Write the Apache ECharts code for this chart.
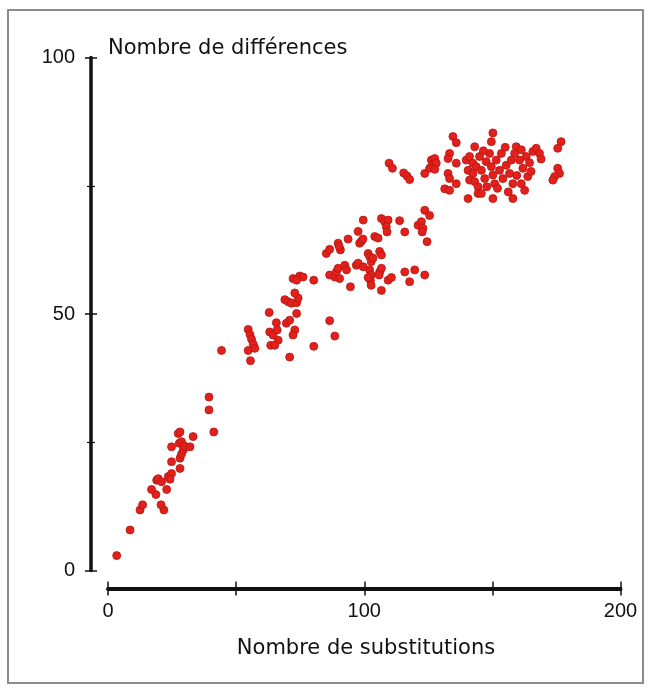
<!DOCTYPE html>
<html>
<head>
<meta charset="utf-8">
<script src="https://cdn.jsdelivr.net/npm/echarts@6/dist/echarts.min.js"></script>
<style>
html,body{margin:0;padding:0;background:#fff;}
#chart{width:654px;height:688px;}
</style>
</head>
<body>
<div id="chart"></div>
<script>
// Axis titles and ticks
const xAxisTitle = 'Nombre de substitutions';
const yAxisTitle = 'Nombre de différences';
const xTickLabels = ['0', '100', '200'];
const yTickLabels = ['0', '50', '100'];

// Points [substitutions, differences]
const lowPoints = [
  [3.4,2.9],[8.6,7.9],[12.5,11.8],[13.5,12.8],[21.8,11.8],[20.7,12.8],[18.7,14.8],[17.0,15.8],
  [19.0,17.6],[22.9,15.8],[23.5,18.3],[24.8,18.9],[24.2,17.8],[19.6,17.9],[20.9,17.3],[28.1,19.9],
  [24.8,21.2],[28.1,21.9],[28.7,22.7],[29.4,23.5],[24.8,24.1],[27.8,24.8],[28.7,25.1],[30.0,24.2],
  [32.0,24.1],[27.4,26.7],[28.1,27.0],[33.2,26.1],[41.3,27.0],[39.4,31.3],[39.4,33.8]
];
const midPoints = [
  [44.3,42.9],[55.6,40.9],[54.7,42.9],[54.7,47.0],[55.4,46.0],[56.0,45.1],[56.7,44.1],[57.3,43.3],
  [62.9,50.3],[65.7,48.3],[63.1,46.5],[64.4,45.9],[66.4,44.9],[63.5,43.9],[65.1,43.9],[66.0,46.9],
  [69.6,48.2],[70.9,48.8],[73.6,50.1],[72.9,46.9],[72.2,45.9],[70.9,41.6],[80.3,43.7],
  [69.0,52.8],[70.3,52.4],[71.6,52.1],[73.6,52.2],[74.2,53.1],[72.9,54.1],
  [72.2,56.9],[74.8,57.4],[76.1,57.2],[73.6,56.6],[80.3,56.6],[86.5,48.7],[88.5,45.7],
  [86.5,57.6],[88.5,57.2],[89.1,58.2],[90.4,56.9],[89.8,58.9],[92.4,59.5],[93.1,58.6],[94.6,55.3],[96.9,59.5]
];
const upperPoints = [
  [85.2,61.8],[86.5,62.6],[89.8,63.8],[90.7,62.5],[90.2,63.2],[93.7,64.6],[97.6,66.1],[99.6,68.3],
  [98.2,63.8],[98.9,64.2],[99.5,64.6],[97.6,59.9],[99.6,59.2],[101.5,61.8],[102.1,61.2],[102.7,60.2],
  [103.4,60.9],[104.1,65.1],[105.4,64.8],[106.7,68.6],[108.0,68.0],[109.3,68.3],[108.6,67.0],[108.9,66.0],
  [106.0,62.2],[106.7,61.5],[102.1,58.6],[102.7,57.6],[102.4,56.6],[101.5,57.1],[102.7,55.6],[106.0,58.2],
  [106.7,58.9],[105.8,57.6],[106.7,54.6],[109.3,56.6],[110.6,57.1],[113.8,68.2],[115.8,66.0],[115.8,58.2],
  [117.7,56.3],[119.7,58.6],[123.6,57.6],[121.0,67.3],[122.3,68.0],[122.9,66.7],[122.6,66.0],[123.6,70.2],
  [125.5,69.2],[124.5,64.1]
];
const plateauPoints = [
  [109.7,79.4],[111.0,78.4],[115.4,77.5],[116.7,76.9],[117.7,76.2],[123.6,77.4],[126.2,80.0],[127.5,80.3],
  [126.5,79.0],[128.1,79.4],[125.5,78.4],[127.5,78.2],[134.6,84.6],[135.9,83.4],[133.3,81.3],[132.7,80.3],
  [135.9,79.4],[132.7,77.4],[133.3,76.4],[135.9,75.4],[131.4,74.4],[133.3,74.1],[140.5,72.5],[139.8,80.0],
  [141.1,80.7],[142.4,79.4],[140.5,78.0],[142.4,77.4],[143.7,78.7],[141.1,76.1],[143.1,75.8],[144.4,74.8],
  [144.4,73.5],[143.1,82.6],[145.0,80.7],[145.7,78.0],[147.0,76.4],[147.6,79.7],[148.9,81.3],[149.6,78.7],
  [150.2,77.1],[150.9,75.4],[151.5,80.0],[152.8,78.0],[153.5,81.3],[154.1,76.4],[155.4,79.0],[156.7,77.4],
  [157.4,80.0],[158.0,75.4],[158.7,81.3],[159.3,82.6],[160.6,80.0],[161.3,82.0],[161.9,78.4],[163.2,80.7],
  [163.8,76.8],[165.1,77.8],[165.8,81.7],[167.1,82.3],[168.4,81.3],[161.3,75.4],[162.6,74.1],[145.7,73.5],
  [150.2,72.5],[158.0,72.5],[176.8,83.6],[175.5,82.3],[175.5,78.4],[176.2,77.4],[174.3,76.8],[173.6,76.1],
  [150.2,85.3],[149.6,83.6],[146.5,81.8],[152.0,74.5],[155.0,82.5],[159.5,77.0],[164.5,79.5],[169.0,80.2],
  [147.8,74.8],[156.2,73.8]
];

const points = lowPoints.concat(midPoints, upperPoints, plateauPoints);

const chart = echarts.init(document.getElementById('chart'), null, {renderer: 'canvas'});
const numFont = 'Liberation Sans, Arial, sans-serif';
const titleFont = 'DejaVu Sans, sans-serif';

const xCommon = {
  type: 'value', min: 0, max: 200, interval: 50, position: 'bottom', offset: 18,
  splitLine: {show: false}
};
const yCommon = {
  type: 'value', min: 0, max: 100, interval: 50, position: 'left', offset: 17,
  splitLine: {show: false}
};

chart.setOption({
  animation: false,
  backgroundColor: '#ffffff',
  grid: {left: 108, right: 33.5, top: 57.5, bottom: 117.5, containLabel: false, outerBoundsMode: 'none'},
  xAxis: [
    Object.assign({}, xCommon, {
      axisLine: {show: true, onZero: false, lineStyle: {color: '#111', width: 4}},
      axisTick: {show: true, inside: false, length: 7, lineStyle: {color: '#111', width: 1.5}},
      axisLabel: {
        show: true, margin: 13, color: '#111', fontSize: 20, fontFamily: numFont,
        formatter: v => (xTickLabels.indexOf(String(v)) >= 0 ? String(v) : '')
      }
    }),
    Object.assign({}, xCommon, {
      axisLine: {show: false, onZero: false},
      axisTick: {show: true, inside: true, length: 7, lineStyle: {color: '#111', width: 1.5}},
      axisLabel: {show: false}
    })
  ],
  yAxis: [
    Object.assign({}, yCommon, {
      axisLine: {show: true, onZero: false, lineStyle: {color: '#111', width: 3.5}},
      axisTick: {show: true, inside: false, length: 6, lineStyle: {color: '#111', width: 1.5}},
      minorTick: {show: true, splitNumber: 2, length: 4, lineStyle: {color: '#111', width: 1.2}},
      axisLabel: {
        show: true, margin: 16, color: '#111', fontSize: 20, fontFamily: numFont,
        formatter: v => (yTickLabels.indexOf(String(v)) >= 0 ? String(v) : '')
      }
    }),
    Object.assign({}, yCommon, {
      axisLine: {show: false, onZero: false},
      axisTick: {show: true, inside: true, length: 6, lineStyle: {color: '#111', width: 1.5}},
      minorTick: {show: true, splitNumber: 2, length: 4, lineStyle: {color: '#111', width: 1.2}},
      axisLabel: {show: false}
    })
  ],
  graphic: [
    {type: 'rect', silent: true, z: -10,
      shape: {x: 8, y: 10, width: 635, height: 673},
      style: {fill: 'none', stroke: '#8c8c8c', lineWidth: 2}},
    {type: 'text', x: 108, y: 49, silent: true,
      style: {text: yAxisTitle, font: '21px ' + titleFont, fill: '#111', align: 'left', verticalAlign: 'middle'}},
    {type: 'text', x: 366, y: 649, silent: true,
      style: {text: xAxisTitle, font: '21px ' + titleFont, fill: '#111', align: 'center', verticalAlign: 'middle'}}
  ],
  series: [{
    type: 'scatter',
    xAxisIndex: 0, yAxisIndex: 0,
    symbol: 'circle', symbolSize: 8,
    itemStyle: {color: '#e3211c', borderColor: '#b5140f', borderWidth: 0.8, opacity: 1},
    data: points
  }]
});
</script>
</body>
</html>
